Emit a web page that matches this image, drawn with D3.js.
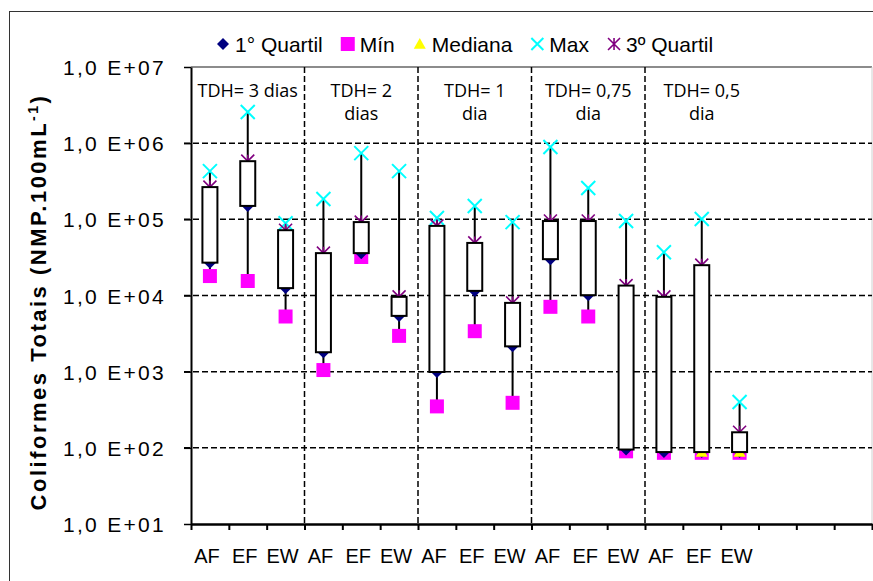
<!DOCTYPE html>
<html>
<head>
<meta charset="utf-8">
<script src="https://cdn.jsdelivr.net/npm/d3@7"></script>
<style>
  body { margin: 0; background: #fff; }
  svg { display: block; }
</style>
</head>
<body>
<script>
// data
let categories = ['AF','EF','EW','AF','EF','EW','AF','EF','EW','AF','EF','EW','AF','EF','EW']
let groupLabels = [['TDH= 3 dias'], ['TDH= 2','dias'], ['TDH= 1','dia'], ['TDH= 0,75','dia'], ['TDH= 0,5','dia']]

let maxV    = [4.3e5, 2.56e6, 8.9e4, 1.85e5, 7.4e5, 4.3e5, 1.04e5, 1.5e5, 9.2e4, 8.9e5, 2.58e5, 9.5e4, 3.7e4, 1.01e5, 400]
let q3V     = [2.65e5, 5.8e5, 7.2e4, 3.6e4, 9.2e4, 9.6e3, 8.2e4, 4.9e4, 8.0e3, 9.5e4, 9.5e4, 1.35e4, 9.6e3, 2.5e4, 160]
let medianV = [5.4e4, 2.5e5, 3.0e4, 5.0e3, 5.0e4, 7.0e3, 2.0e4, 2.0e4, 4.0e3, 5.0e4, 3.0e4, 1.0e3, 500, 88, 88]
let q1V     = [2.7e4, 1.5e5, 1.25e4, 1.8e3, 3.6e4, 5.4e3, 990, 1.15e4, 2.15e3, 3.0e4, 1.01e4, 95, 88, 88, 88]
let minV    = [1.8e4, 1.55e4, 5.3e3, 1.05e3, 3.2e4, 2.95e3, 350, 3.4e3, 390, 7.1e3, 5.3e3, 90, 86, 86, 86]

let yTicks = [1e1, 1e2, 1e3, 1e4, 1e5, 1e6, 1e7]
let yTickLabels = ['1,0 E+01','1,0 E+02','1,0 E+03','1,0 E+04','1,0 E+05','1,0 E+06','1,0 E+07']

let legendItems = [
  {name: '1° Quartil', sym: 'diamond', color: '#000080'},
  {name: 'Mín',        sym: 'square',  color: '#ff00ff'},
  {name: 'Mediana',    sym: 'triangle',color: '#ffff00'},
  {name: 'Max',        sym: 'cross',   color: '#00ffff'},
  {name: '3º Quartil', sym: 'star',    color: '#800080'}
]

let w = 873, h = 581
let mLeft = 191, mRight = 872, mTop = 67, mBottom = 524
let nSlots = 18   // the axis keeps three empty slots on the right

let svg = d3.select('body').append('svg').attr('width', w).attr('height', h)

let x = d3.scaleBand().domain(d3.range(nSlots)).range([mLeft, mRight])
let xb = d3.scaleLinear().domain([0, nSlots]).range([mLeft, mRight])
let y = d3.scaleLog().domain([1e1, 1e7]).range([mBottom, mTop])

let font = "'Liberation Sans', Arial, sans-serif"

// outer frame
svg.append('rect')
  .attr('x', 9.5).attr('y', 11.5).attr('width', 900).attr('height', 600)
  .attr('fill', 'none').attr('stroke', '#333').attr('stroke-width', 1)

// plot border top / right (gray)
svg.append('line').attr('x1', mLeft).attr('x2', mRight).attr('y1', y(1e7)).attr('y2', y(1e7))
  .attr('stroke', '#8c8c8c').attr('stroke-width', 2)
svg.append('line').attr('x1', mRight).attr('x2', mRight).attr('y1', mTop).attr('y2', mBottom)
  .attr('stroke', '#d0d0d0').attr('stroke-width', 1)

// horizontal dashed grid
svg.selectAll('.hgrid')
  .data(yTicks.filter(d => d > 1e1 && d < 1e7))
  .enter().append('line')
  .attr('x1', mLeft - 7).attr('x2', mRight)
  .attr('y1', d => y(d)).attr('y2', d => y(d))
  .attr('stroke', '#000').attr('stroke-width', 1.5).attr('stroke-dasharray', '6,3')

// vertical dashed separators between groups
svg.selectAll('.vgrid')
  .data([3, 6, 9, 12])
  .enter().append('line')
  .attr('x1', d => xb(d)).attr('x2', d => xb(d))
  .attr('y1', mTop).attr('y2', mBottom)
  .attr('stroke', '#000').attr('stroke-width', 1.5).attr('stroke-dasharray', '6,3')

// y axis
let yAxis = svg.append('g').attr('transform', `translate(${mLeft},0)`)
  .call(d3.axisLeft(y).tickValues(yTicks).tickSize(7).tickSizeOuter(0).tickPadding(18)
    .tickFormat((d, i) => yTickLabels[i]))
yAxis.select('.domain').attr('stroke-width', 2)
yAxis.selectAll('.tick line').attr('stroke-width', 1.5)
yAxis.selectAll('text')
  .attr('font-family', font).attr('font-size', 21).attr('letter-spacing', 2.3)
  .attr('fill', '#000').attr('dy', '0.36em')

// x axis
let xAxis = svg.append('g').attr('transform', `translate(0,${mBottom})`)
  .call(d3.axisBottom(xb).tickValues(d3.range(nSlots + 1)).tickSize(6).tickSizeOuter(0).tickFormat(''))
xAxis.select('.domain').attr('stroke-width', 2.5)
xAxis.selectAll('.tick line').attr('stroke-width', 2)

svg.selectAll('.xlabel')
  .data(categories)
  .enter().append('text')
  .attr('x', (d, i) => x(i) + x.bandwidth() / 2 - 3)
  .attr('y', 563)
  .attr('text-anchor', 'middle')
  .attr('font-family', "'Liberation Sans Narrow', 'Arial Narrow', 'Liberation Sans', sans-serif")
  .attr('font-size', 20)
  .text(d => d)

// y title
let title = svg.append('text')
  .attr('transform', 'translate(46,302) rotate(-90)')
  .attr('text-anchor', 'middle')
  .attr('font-family', font).attr('font-weight', 'bold').attr('font-size', 22)
  .attr('letter-spacing', 2.5)
title.append('tspan').text('Coliformes Totais  (NMP.100mL')
title.append('tspan').attr('font-size', 14).attr('dy', -8).text('-1')
title.append('tspan').attr('dy', 8).text(')')

// symbol paths
let symPath = {
  diamond: r => `M0,${-r}L${r},0L0,${r}L${-r},0Z`,
  square: r => `M${-r},${-r}H${r}V${r}H${-r}Z`,
  triangle: r => `M0,${-r}L${r},${r * 0.8}L${-r},${r * 0.8}Z`,
  cross: r => `M${-r},${-r}L${r},${r}M${r},${-r}L${-r},${r}`,
  star: r => `M${-r},${-r}L${r},${r}M${r},${-r}L${-r},${r}M0,${-r}L0,${r}`
}
function drawSym(sel, sym, color, r) {
  let filled = sym === 'diamond' || sym === 'square' || sym === 'triangle'
  sel.attr('d', symPath[sym](r))
    .attr('fill', filled ? color : 'none')
    .attr('stroke', filled ? 'none' : color)
    .attr('stroke-width', sym === 'cross' ? 2 : 1.6)
}

let cx = i => x(i) + x.bandwidth() / 2

// whiskers
svg.selectAll('.whisker')
  .data(categories)
  .enter().append('line')
  .attr('x1', (d, i) => cx(i)).attr('x2', (d, i) => cx(i))
  .attr('y1', (d, i) => y(maxV[i])).attr('y2', (d, i) => y(minV[i]))
  .attr('stroke', '#000').attr('stroke-width', 2)

// markers, drawn under the boxes
let series = [
  {vals: minV, sym: 'square', color: '#ff00ff', r: 7},
  {vals: q1V, sym: 'diamond', color: '#000080', r: 6},
  {vals: medianV, sym: 'triangle', color: '#ffff00', r: 6},
  {vals: maxV, sym: 'cross', color: '#00ffff', r: 7},
  {vals: q3V, sym: 'star', color: '#800080', r: 6.5}
]
series.forEach(s => {
  svg.selectAll(null)
    .data(s.vals)
    .enter().append('path')
    .attr('transform', (d, i) => `translate(${cx(i)},${y(d)})`)
    .call(sel => drawSym(sel, s.sym, s.color, s.r))
})

// boxes q1..q3
let boxW = 15
svg.selectAll('.box')
  .data(categories)
  .enter().append('rect')
  .attr('x', (d, i) => cx(i) - boxW / 2)
  .attr('width', boxW)
  .attr('y', (d, i) => y(q3V[i]))
  .attr('height', (d, i) => y(q1V[i]) - y(q3V[i]))
  .attr('fill', '#fff').attr('stroke', '#000').attr('stroke-width', 2)

// group annotations
let annFont = "'Open Sans', 'Noto Sans', sans-serif"
groupLabels.forEach((lines, g) => {
  let mid = (xb(g * 3) + xb(g * 3 + 3)) / 2
  lines.forEach((t, k) => {
    svg.append('text')
      .attr('x', mid).attr('y', 97 + k * 23)
      .attr('text-anchor', 'middle')
      .attr('font-family', annFont).attr('font-size', 18)
      .text(t)
  })
})

// legend
let legend = svg.append('g').attr('transform', 'translate(223,44)')
let lx = 0
legendItems.forEach(it => {
  let path = legend.append('path').attr('transform', `translate(${lx},0)`)
  drawSym(path, it.sym, it.color, it.sym === 'square' ? 7 : 6)
  let t = legend.append('text')
    .attr('x', lx + 12).attr('y', 8)
    .attr('font-family', font).attr('font-size', 21)
    .text(it.name)
  lx += 12 + t.node().getComputedTextLength() + 25
})
</script>
</body>
</html>
